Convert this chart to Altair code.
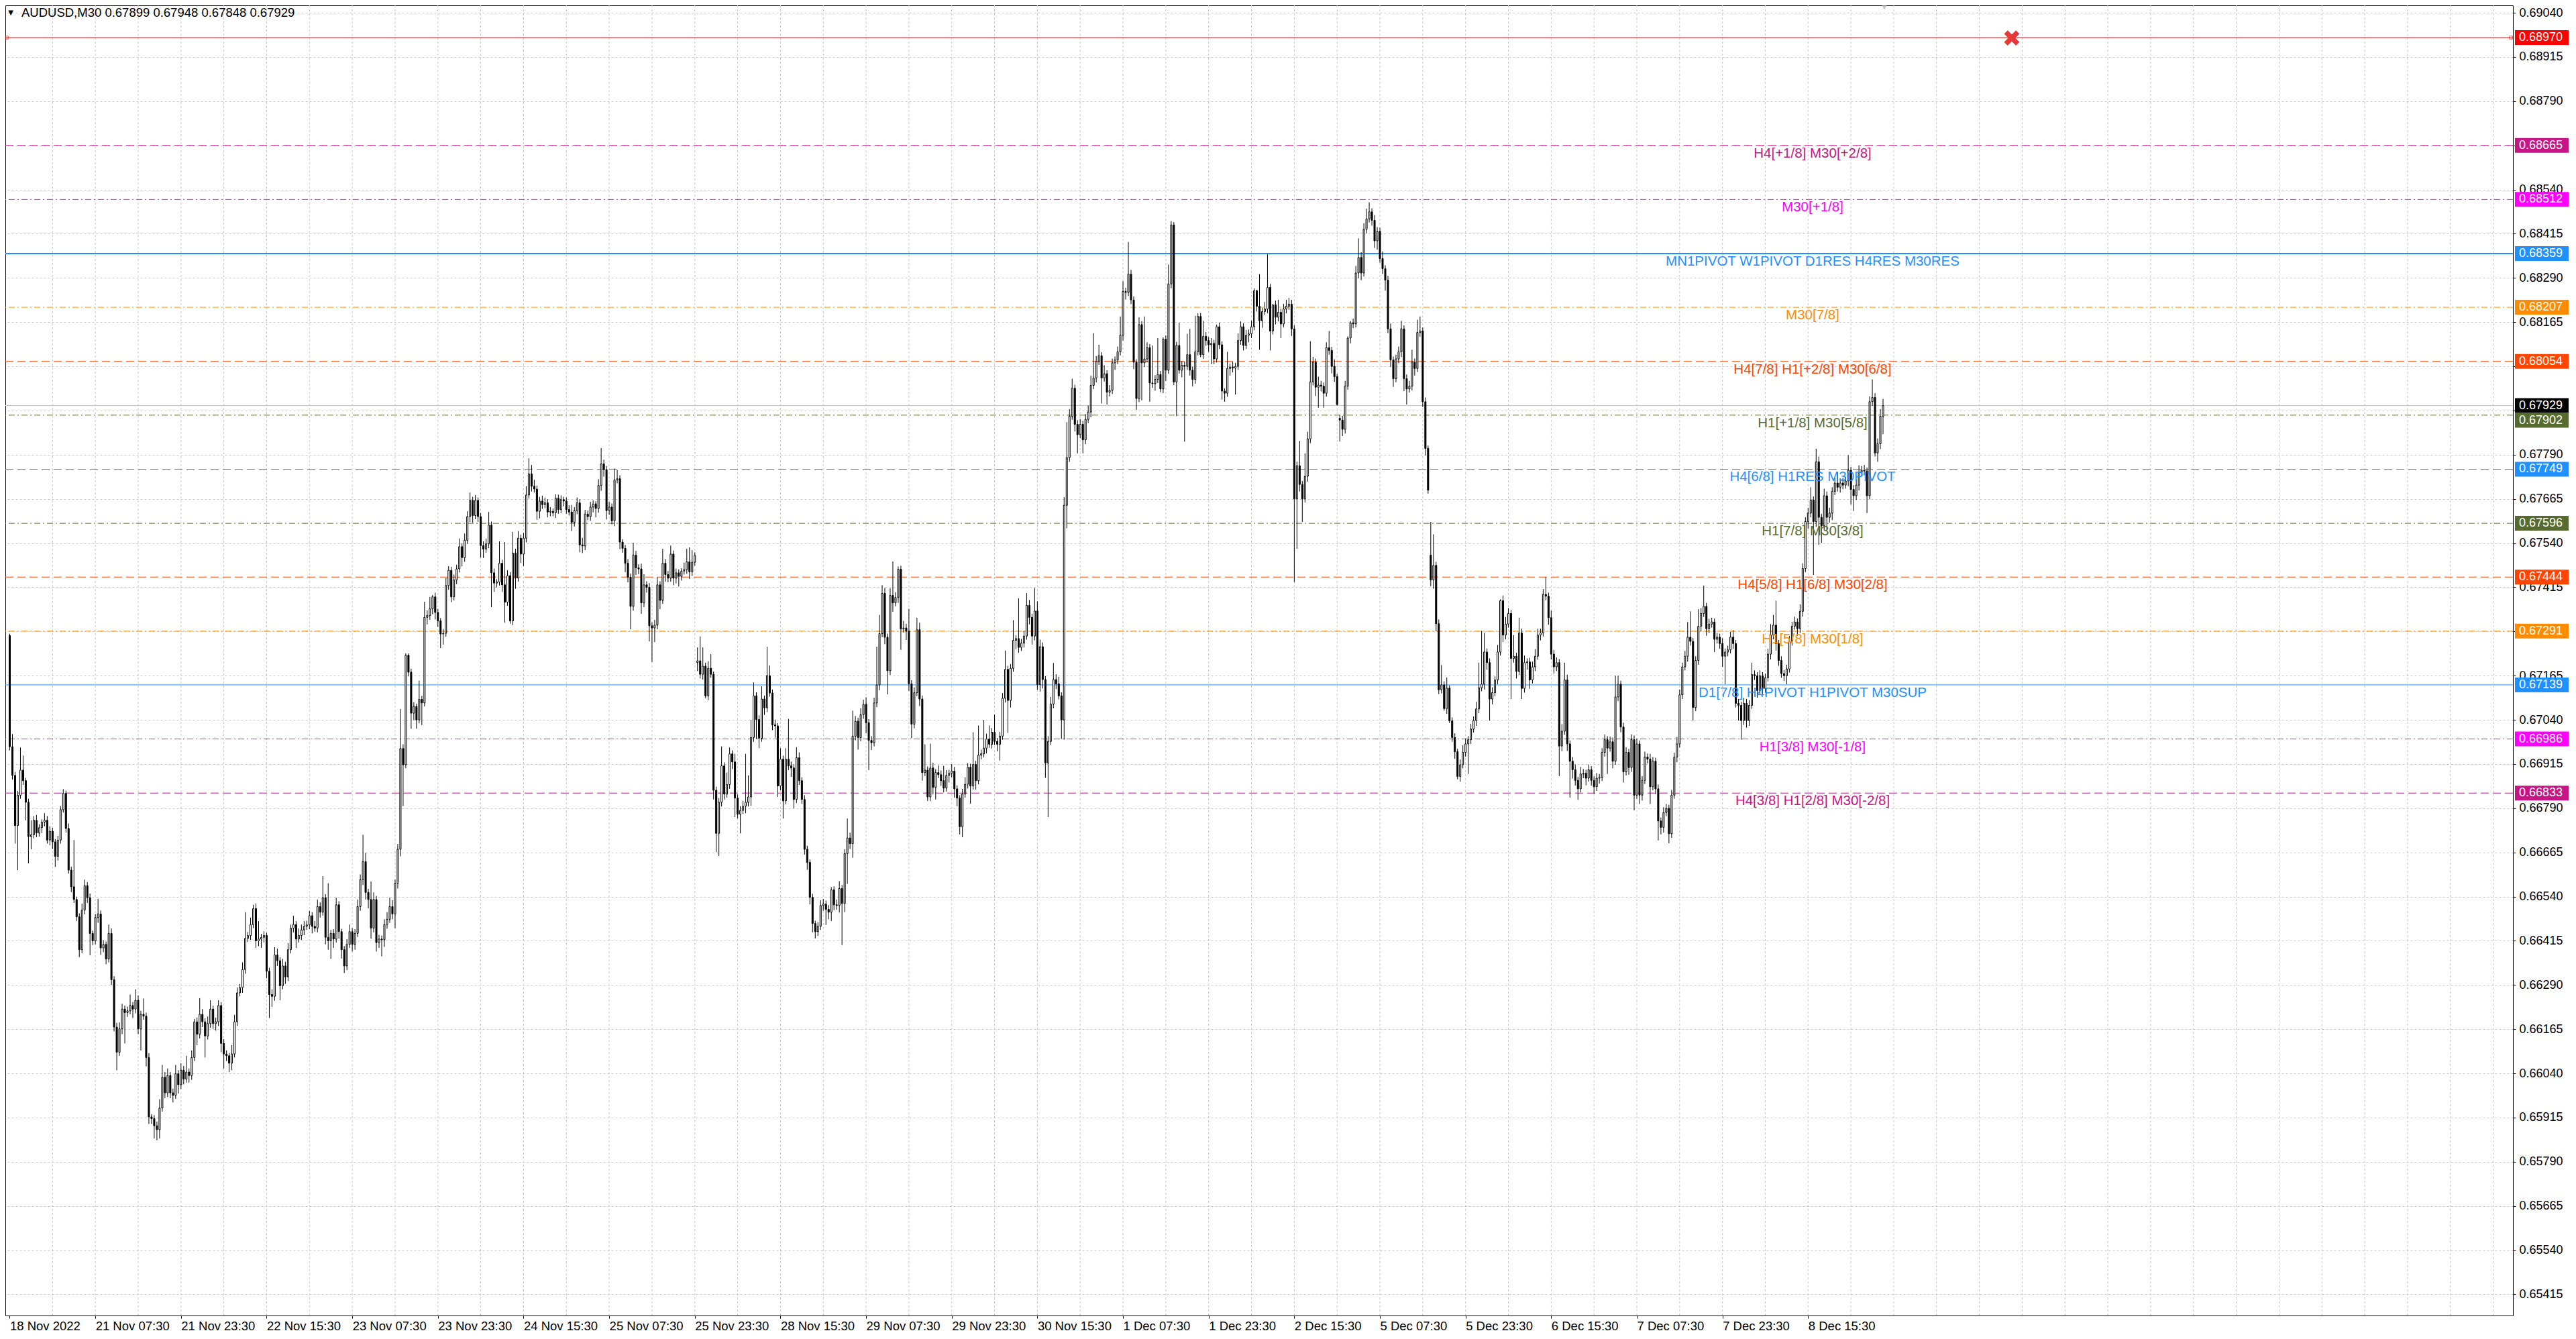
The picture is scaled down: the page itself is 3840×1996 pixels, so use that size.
import json
import altair as alt
import pandas as pd

# ---------------- data (prices in 1e-5 units) ----------------
closes = [
66964, 66883, 66741, 66827, 66898, 66868, 66807, 66710, 66715, 66756,
66720, 66735, 66751, 66756, 66700, 66725, 66695, 66654, 66700, 66786,
66832, 66733, 66615, 66568, 66532, 66483, 66390, 66502, 66571, 66537,
66436, 66415, 66481, 66491, 66395, 66405, 66364, 66436, 66305, 66171,
66100, 66166, 66222, 66212, 66217, 66232, 66222, 66247, 66166, 66207,
66202, 66085, 65917, 65912, 65892, 65881, 65942, 66029, 65985, 66034,
65985, 65978, 66039, 66008, 66049, 66024, 66044, 66034, 66085, 66186,
66151, 66207, 66186, 66146, 66181, 66222, 66181, 66186, 66232, 66125,
66095, 66090, 66069, 66095, 66186, 66268, 66283, 66334, 66422, 66430,
66461, 66506, 66415, 66420, 66425, 66430, 66329, 66263, 66258, 66375,
66359, 66288, 66344, 66313, 66390, 66451, 66461, 66420, 66430, 66446,
66456, 66460, 66486, 66456, 66451, 66512, 66496, 66537, 66425, 66415,
66436, 66420, 66517, 66441, 66390, 66344, 66405, 66441, 66405, 66436,
66512, 66588, 66639, 66552, 66532, 66451, 66532, 66410, 66420, 66418,
66461, 66476, 66512, 66491, 66578, 66674, 66959, 66913, 67223, 67175,
67059, 67078, 67040, 67098, 67088, 67330, 67335, 67354, 67388, 67344,
67320, 67283, 67285, 67420, 67463, 67388, 67436, 67467, 67530, 67499,
67548, 67615, 67661, 67618, 67661, 67615, 67533, 67523, 67538, 67591,
67456, 67427, 67430, 67483, 67422, 67373, 67448, 67320, 67512, 67441,
67554, 67509, 67554, 67676, 67736, 67701, 67693, 67630, 67659, 67649,
67654, 67628, 67630, 67626, 67667, 67635, 67663, 67659, 67635, 67628,
67599, 67632, 67654, 67535, 67532, 67622, 67615, 67642, 67651, 67638,
67703, 67764, 67748, 67632, 67642, 67603, 67719, 67722, 67543, 67525,
67483, 67444, 67361, 67506, 67470, 67467, 67371, 67422, 67415, 67306,
67300, 67308, 67422, 67378, 67483, 67451, 67441, 67509, 67441, 67456,
67446, 67461, 67465, 67487, 67459, 67486, 67505, 67207, 67169, 67192,
67108, 67186, 67169, 66841, 66719, 66807, 66910, 66830, 66857, 66944,
66921, 66819, 66773, 66784, 66796, 66807, 66822, 66990, 67108, 67041,
66988, 67099, 67074, 67165, 67116, 67026, 67023, 66853, 66929, 66811,
66929, 66910, 66904, 66815, 66933, 66868, 66815, 66674, 66637, 66538,
66464, 66441, 66456, 66515, 66519, 66504, 66496, 66559, 66517, 66515,
66563, 66521, 66662, 66706, 66690, 66994, 67036, 66990, 67055, 67084,
67032, 66982, 66975, 67088, 67139, 67284, 67398, 67274, 67179, 67392,
67371, 67386, 67466, 67297, 67300, 67291, 67142, 67028, 67117, 67295,
67099, 66891, 66898, 66822, 66904, 66849, 66891, 66885, 66868, 66847,
66883, 66889, 66895, 66845, 66819, 66738, 66830, 66858, 66906, 66853,
66914, 66868, 66940, 66944, 66960, 66986, 66971, 67005, 66979, 66971,
66994, 67101, 67183, 67095, 67186, 67265, 67270, 67245, 67257, 67277,
67364, 67330, 67277, 67348, 67140, 67247, 67154, 66918, 66979, 67085,
67154, 67142, 67108, 67040, 67647, 67782, 67899, 67978, 67876, 67847,
67876, 67832, 67890, 67911, 67986, 68007, 68054, 68070, 68007, 68019,
67967, 67972, 68050, 68058, 68081, 68128, 68252, 68249, 68301, 68228,
68052, 67949, 68158, 68050, 68061, 68093, 67993, 67991, 68003, 68017,
67976, 68117, 68029, 68273, 68440, 67996, 68099, 68029, 68043, 68040,
68073, 68029, 68003, 68081, 68181, 68073, 68125, 68113, 68101, 68105,
68061, 68152, 68101, 67970, 67964, 68034, 68038, 68035, 68040, 68113,
68152, 68099, 68128, 68132, 68152, 68254, 68210, 68169, 68195, 68202,
68263, 68140, 68214, 68179, 68193, 68160, 68202, 68210, 68216, 68146,
67665, 67759, 67706, 67665, 67729, 67835, 67996, 68052, 67981, 67987,
67984, 67964, 68093, 68085, 68040, 68011, 67932, 67888, 67862, 67984,
68120, 68163, 68160, 68304, 68348, 68304, 68428, 68457, 68477, 68453,
68395, 68422, 68345, 68316, 68284, 68146, 68058, 68005, 68061, 68081,
68146, 68005, 67976, 67984, 68052, 68034, 68136, 68140, 67940, 67808,
67690, 67436, 67477, 67312, 67125, 67139, 67072, 67130, 67037, 66990,
66950, 66880, 66913, 66948, 66972, 66984, 67014, 67038, 67071, 67131,
67141, 67232, 67202, 67099, 67117, 67153, 67232, 67377, 67280, 67311,
67341, 67214, 67220, 67177, 67286, 67129, 67202, 67204, 67153, 67190,
67220, 67280, 67286, 67395, 67390, 67329, 67226, 67190, 67202, 66966,
67008, 67153, 66972, 66923, 66899, 66869, 66845, 66887, 66889, 66875,
66899, 66869, 66851, 66875, 66877, 66948, 66984, 66960, 66978, 66923,
67105, 67141, 67020, 66893, 66948, 66905, 66984, 66827, 66972, 66827,
66869, 66935, 66929, 66851, 66923, 66845, 66754, 66736, 66778, 66790,
66718, 66827, 66935, 66972, 67111, 67190, 67220, 67274, 67262, 67075,
67208, 67305, 67341, 67361, 67298, 67311, 67317, 67268, 67274, 67256,
67220, 67232, 67238, 67274, 67256, 67087, 67081, 67038, 67087, 67038,
67081, 67168, 67165, 67123, 67165, 67129, 67159, 67226, 67280, 67308,
67256, 67208, 67171, 67165, 67184, 67262, 67305, 67317, 67298, 67347,
67468, 67601, 67625, 67662, 67601, 67770, 67613, 67589, 67674, 67613,
67625, 67686, 67710, 67698, 67710, 67704, 67716, 67746, 67692, 67674,
67704, 67740, 67746, 67744, 67674, 67940, 67952, 67795, 67821, 67899,
67929,
]

upper_wicks = [
5, 36, 10, 12, 64, 41, 8, 10, 41, 12,
15, 10, 8, 20, 12, 14, 10, 8, 12, 10,
12, 8, 14, 10, 132, 8, 10, 18, 17, 10,
12, 8, 10, 43, 10, 12, 8, 25, 14, 10,
12, 18, 15, 10, 12, 31, 10, 31, 14, 10,
45, 10, 12, 8, 10, 12, 25, 35, 15, 20,
10, 12, 25, 10, 20, 12, 46, 10, 20, 8,
12, 46, 15, 10, 20, 25, 10, 12, 15, 10,
12, 10, 8, 25, 20, 15, 10, 20, 74, 10,
20, 11, 15, 51, 10, 12, 8, 10, 15, 22,
18, 10, 20, 12, 18, 10, 25, 10, 20, 15,
15, 12, 14, 10, 15, 20, 12, 61, 10, 153,
10, 12, 20, 10, 8, 10, 15, 20, 10, 12,
20, 15, 76, 25, 10, 51, 20, 10, 12, 10,
15, 20, 25, 18, 10, 15, 112, 12, 5, 5,
10, 12, 8, 53, 10, 44, 15, 34, 5, 12,
10, 8, 12, 21, 12, 10, 15, 12, 23, 10,
19, 15, 22, 10, 15, 8, 10, 12, 15, 37,
10, 12, 8, 62, 10, 121, 15, 10, 60, 12,
20, 10, 15, 25, 44, 25, 18, 10, 12, 15,
15, 10, 12, 8, 11, 10, 12, 8, 10, 12,
20, 10, 15, 10, 20, 12, 10, 15, 10, 8,
18, 45, 12, 10, 15, 10, 32, 25, 10, 8,
10, 12, 10, 35, 12, 10, 15, 30, 10, 12,
10, 15, 22, 10, 41, 12, 10, 24, 10, 12,
10, 8, 20, 37, 41, 34, 9, 38, 69, 53,
10, 20, 40, 8, 10, 12, 55, 10, 34, 18,
10, 23, 10, 12, 15, 137, 61, 50, 38, 10,
12, 36, 10, 82, 29, 10, 15, 8, 31, 10,
31, 114, 12, 10, 30, 15, 10, 12, 10, 8,
10, 8, 12, 15, 14, 10, 12, 8, 10, 15,
21, 10, 12, 55, 15, 72, 15, 10, 18, 13,
20, 10, 12, 15, 108, 53, 23, 15, 10, 20,
96, 15, 8, 10, 20, 12, 63, 10, 15, 34,
20, 10, 73, 10, 69, 15, 10, 20, 12, 42,
15, 10, 20, 12, 10, 8, 15, 20, 12, 10,
91, 10, 84, 12, 80, 15, 38, 12, 50, 10,
12, 15, 53, 10, 12, 57, 10, 114, 12, 15,
35, 15, 10, 65, 27, 20, 12, 10, 15, 20,
47, 15, 20, 10, 23, 100, 20, 27, 10, 12,
15, 10, 15, 18, 28, 127, 15, 31, 10, 24,
10, 15, 12, 10, 15, 53, 29, 10, 91, 12,
10, 8, 21, 10, 120, 15, 10, 106, 12, 103,
10, 5, 10, 55, 11, 8, 10, 64, 12, 10,
59, 73, 10, 102, 9, 10, 44, 12, 10, 15,
10, 6, 12, 10, 8, 47, 10, 15, 10, 20,
15, 10, 15, 12, 17, 7, 3, 91, 10, 20,
94, 10, 2, 12, 35, 10, 15, 18, 18, 12,
10, 12, 70, 10, 65, 20, 115, 15, 10, 24,
12, 10, 15, 47, 10, 20, 8, 10, 12, 15,
5, 5, 12, 20, 54, 15, 17, 29, 27, 10,
15, 12, 10, 20, 10, 12, 15, 10, 12, 15,
23, 10, 12, 15, 35, 10, 36, 41, 10, 12,
8, 94, 88, 10, 12, 56, 10, 30, 8, 10,
12, 8, 15, 20, 15, 10, 15, 12, 20, 71,
151, 54, 10, 12, 15, 10, 20, 4, 15, 20,
15, 10, 60, 10, 43, 12, 20, 10, 12, 15,
20, 18, 12, 15, 49, 10, 20, 12, 15, 10,
20, 49, 15, 10, 12, 15, 10, 20, 12, 10,
15, 10, 12, 15, 10, 12, 15, 10, 15, 12,
60, 24, 10, 12, 15, 10, 15, 12, 15, 10,
12, 15, 10, 15, 12, 10, 12, 10, 15, 12,
10, 15, 12, 20, 15, 12, 15, 43, 73, 10,
12, 48, 15, 59, 10, 15, 12, 10, 12, 10,
15, 10, 12, 15, 20, 10, 12, 10, 15, 12,
15, 34, 12, 10, 15, 10, 12, 15, 31, 29,
69, 10, 12, 10, 12, 15, 12, 15, 10, 20,
15, 12, 15, 36, 10, 37, 15, 10, 20, 12,
15, 12, 15, 30, 12, 15, 12, 43, 10, 12,
15, 20, 12, 15, 10, 15, 51, 12, 15, 20,
19,
]

lower_wicks = [
10, 12, 51, 126, 10, 12, 51, 76, 36, 10,
12, 10, 15, 12, 10, 15, 20, 30, 12, 10,
8, 12, 10, 15, 10, 12, 21, 10, 12, 15,
62, 12, 10, 15, 20, 12, 15, 10, 15, 12,
51, 10, 15, 87, 12, 10, 25, 12, 15, 61,
10, 25, 20, 15, 36, 30, 25, 10, 15, 12,
15, 20, 10, 25, 12, 15, 10, 20, 12, 10,
31, 12, 15, 61, 10, 12, 15, 20, 12, 25,
41, 15, 25, 20, 10, 12, 10, 15, 12, 10,
12, 10, 20, 15, 25, 15, 20, 66, 30, 12,
15, 41, 10, 20, 12, 10, 12, 25, 10, 12,
15, 10, 12, 20, 10, 12, 15, 10, 20, 25,
51, 25, 10, 20, 25, 20, 12, 10, 20, 15,
10, 12, 15, 20, 25, 30, 12, 25, 15, 47,
20, 12, 10, 15, 40, 15, 20, 117, 10, 12,
44, 20, 25, 10, 63, 10, 20, 12, 15, 20,
17, 40, 30, 10, 12, 15, 10, 12, 10, 25,
12, 10, 15, 20, 10, 15, 34, 25, 10, 12,
97, 25, 12, 10, 20, 58, 10, 8, 12, 30,
10, 25, 34, 12, 10, 15, 10, 24, 20, 12,
10, 15, 12, 10, 15, 12, 10, 15, 12, 10,
25, 12, 10, 21, 20, 12, 10, 12, 15, 25,
12, 15, 20, 25, 12, 10, 15, 10, 20, 12,
25, 15, 65, 12, 20, 15, 31, 12, 15, 44,
96, 40, 12, 25, 10, 20, 12, 10, 20, 15,
29, 12, 10, 12, 20, 12, 10, 24, 12, 15,
7, 12, 10, 26, 53, 64, 12, 15, 10, 12,
20, 54, 12, 54, 10, 20, 12, 25, 12, 55,
28, 10, 20, 12, 10, 15, 33, 31, 12, 50,
10, 12, 25, 25, 10, 12, 12, 15, 21, 20,
25, 19, 12, 10, 15, 44, 20, 25, 15, 12,
20, 118, 25, 86, 15, 40, 12, 34, 10, 12,
30, 84, 20, 10, 12, 15, 10, 20, 67, 12,
25, 10, 15, 59, 10, 25, 20, 40, 12, 10,
20, 23, 10, 11, 12, 20, 34, 10, 15, 12,
10, 20, 12, 25, 23, 22, 30, 10, 12, 50,
10, 25, 10, 12, 10, 15, 10, 12, 10, 20,
46, 10, 12, 92, 20, 10, 25, 15, 10, 12,
10, 20, 24, 12, 15, 20, 25, 42, 153, 10,
12, 15, 10, 54, 56, 65, 12, 10, 20, 53,
10, 38, 12, 10, 15, 10, 12, 10, 72, 10,
35, 12, 10, 20, 12, 10, 15, 20, 10, 12,
20, 32, 10, 106, 12, 10, 53, 12, 20, 10,
9, 12, 30, 10, 12, 9, 97, 10, 20, 213,
10, 15, 20, 12, 10, 7, 12, 15, 20, 55,
15, 10, 12, 24, 24, 10, 20, 12, 75, 10,
12, 14, 10, 20, 12, 10, 15, 82, 20, 10,
12, 55, 10, 20, 12, 40, 10, 12, 10, 20,
235, 141, 20, 65, 10, 15, 12, 10, 25, 58,
15, 41, 10, 12, 20, 15, 3, 61, 19, 12,
10, 15, 12, 10, 15, 20, 10, 12, 10, 15,
20, 25, 12, 15, 30, 12, 20, 23, 10, 12,
15, 35, 44, 10, 12, 20, 10, 12, 15, 20,
10, 18, 25, 21, 12, 10, 6, 15, 6, 12,
20, 8, 15, 10, 12, 85, 12, 10, 15, 12,
10, 15, 20, 61, 15, 10, 12, 10, 20, 12,
10, 115, 12, 20, 10, 30, 12, 20, 25, 10,
12, 10, 15, 10, 12, 20, 15, 19, 12, 85,
15, 10, 20, 103, 25, 15, 31, 10, 12, 20,
10, 15, 20, 12, 15, 10, 12, 73, 10, 20,
10, 12, 15, 30, 10, 20, 12, 43, 10, 25,
15, 10, 12, 49, 10, 15, 55, 20, 15, 10,
27, 12, 10, 15, 10, 12, 10, 15, 12, 37,
10, 12, 15, 10, 20, 12, 10, 36, 12, 15,
30, 79, 12, 10, 15, 12, 43, 54, 12, 20,
15, 10, 12, 20, 10, 15, 12, 10, 15, 12,
20, 15, 12, 15, 24, 10, 12, 10, 20, 12,
15, 10, 20, 12, 151, 15, 78, 48, 12, 36,
15, 20, 10, 12, 15, 12, 10, 15, 43, 43,
12, 15, 10, 12, 49, 10, 12, 10, 25, 15,
51,
]

# opens that do not equal the previous close (session gaps)
open_gaps = {0: 67279, 257: 67202, 497: 67893, 531: 67506}

time_labels = ["18 Nov 2022", "21 Nov 07:30", "21 Nov 23:30", "22 Nov 15:30", "23 Nov 07:30",
               "23 Nov 23:30", "24 Nov 15:30", "25 Nov 07:30", "25 Nov 23:30", "28 Nov 15:30",
               "29 Nov 07:30", "29 Nov 23:30", "30 Nov 15:30", "1 Dec 07:30", "1 Dec 23:30",
               "2 Dec 15:30", "5 Dec 07:30", "5 Dec 23:30", "6 Dec 15:30", "7 Dec 07:30",
               "7 Dec 23:30", "8 Dec 15:30"]
bars_per_label = 32

y_ticks = [0.69040, 0.68915, 0.68790, 0.68665, 0.68540, 0.68415, 0.68290, 0.68165, 0.68040, 0.67915,
           0.67790, 0.67665, 0.67540, 0.67415, 0.67290, 0.67165, 0.67040, 0.66915, 0.66790, 0.66665,
           0.66540, 0.66415, 0.66290, 0.66165, 0.66040, 0.65915, 0.65790, 0.65665, 0.65540, 0.65415]
# tick labels hidden behind price boxes in the reference
hidden_tick_labels = ["0.68040", "0.67915"]

level_prices = [0.68970, 0.68665, 0.68512, 0.68359, 0.68207, 0.68054, 0.67929, 0.67902,
                0.67749, 0.67596, 0.67444, 0.67291, 0.67139, 0.66986, 0.66833]
level_colors = ["#FF0000", "#C71585", "#FF00FF", "#1E90FF", "#FF8C00", "#FF4500", "#000000", "#556B2F",
                "#1E90FF", "#556B2F", "#FF4500", "#FF8C00", "#1E90FF", "#FF00FF", "#C71585"]
level_line_colors = ["#FF0000", "#C71585", "#FF00FF", "#1E90FF", "#FF8C00", "#FF4500", "#C0C0C0", "#556B2F",
                     "#1E90FF", "#556B2F", "#FF4500", "#FF8C00", "#1E90FF", "#FF00FF", "#C71585"]
level_styles = ["solid", "dash", "dashdot", "solid2", "dashdot", "dash", "solid", "dashdot",
                "dash", "dashdot", "dash", "dashdot", "solid", "dashdot", "dash"]
level_texts = ["", "H4[+1/8] M30[+2/8]", "M30[+1/8]", "MN1PIVOT W1PIVOT D1RES H4RES M30RES", "M30[7/8]",
               "H4[7/8] H1[+2/8] M30[6/8]", "", "H1[+1/8] M30[5/8]", "H4[6/8] H1RES M30PIVOT",
               "H1[7/8] M30[3/8]", "H4[5/8] H1[6/8] M30[2/8]", "H1[5/8] M30[1/8]",
               "D1[7/8] H4PIVOT H1PIVOT M30SUP", "H1[3/8] M30[-1/8]", "H4[3/8] H1[2/8] M30[-2/8]"]

title_text = "AUDUSD,M30  0.67899 0.67948 0.67848 0.67929"

# ---------------- layout ----------------
W, H = 3738, 1953
X_DOM = [-0.375, 934.125]
Y_DOM = [0.653552, 0.690611]
PX_PER_PRICE = H / (Y_DOM[1] - Y_DOM[0])
FONT = "Liberation Sans, Arial, sans-serif"

xs = alt.Scale(domain=X_DOM, nice=False, zero=False)
ys = alt.Scale(domain=Y_DOM, nice=False, zero=False)

# ---------------- tables ----------------
rows = []
prev = closes[0]
for i, c in enumerate(closes):
    o = open_gaps.get(i, prev)
    uw = upper_wicks[i] if i < len(upper_wicks) else 0
    lw = lower_wicks[i] if i < len(lower_wicks) else 0
    rows.append({"bar": i, "open": o / 1e5, "close": c / 1e5,
                 "high": (max(o, c) + uw) / 1e5, "low": (min(o, c) - lw) / 1e5,
                 "up": bool(c >= o)})
    prev = c
candles = pd.DataFrame(rows)

levels = pd.DataFrame({"price": level_prices, "color": level_colors, "lcolor": level_line_colors,
                       "style": level_styles, "label": level_texts})

# price boxes on the right, stacked so they never overlap
box_half = 11.0 / PX_PER_PRICE
centers = []
last = None
for p in level_prices:
    c = p
    if last is not None and (last - c) < 2 * box_half:
        c = last - 2 * box_half
    centers.append(c)
    last = c
boxes = pd.DataFrame({"center": centers, "lo": [c - box_half for c in centers],
                      "hi": [c + box_half for c in centers], "color": level_colors,
                      "txt": ["%.5f" % p for p in level_prices]})

grid_bars = pd.DataFrame({"g": list(range(16, 936, 16))})

# ---------------- axes (identical in every layer so they merge) ----------------
label_expr = json.dumps(time_labels) + "[round(datum.value/%d)]" % bars_per_label
y_label_expr = "indexof(%s, datum.label) >= 0 ? '' : datum.label" % json.dumps(hidden_tick_labels)
x_axis = alt.Axis(values=[k * bars_per_label for k in range(len(time_labels))], labelExpr=label_expr,
                  grid=False, domain=False, ticks=True, tickSize=4, tickColor="black",
                  labelAlign="left", labelBaseline="top", labelPadding=2, labelFont=FONT,
                  labelFontSize=18.5, labelColor="black", labelFlush=False, labelOverlap=False,
                  labelBound=False, title=None)
y_axis = alt.Axis(orient="right", values=y_ticks, format=".5f", labelExpr=y_label_expr,
                  grid=True, gridColor="#C8C8C8",
                  gridDash=[3, 3], gridWidth=1, domain=False, tickSize=4, tickColor="black",
                  labelPadding=5, labelFont=FONT, labelFontSize=18, labelColor="black",
                  labelOverlap=False, labelBound=False, labelFlush=False, title=None)


def X(field):
    return alt.X(field, scale=xs, axis=x_axis)


def Y(field):
    return alt.Y(field, scale=ys, axis=y_axis)


# ---------------- layers ----------------
vgrid = alt.Chart(grid_bars).mark_rule(color="#C8C8C8", strokeDash=[3, 3], strokeWidth=1).encode(
    x=X("g:Q"))


def level_layer(style, dash=None, width=1):
    mk = dict(strokeWidth=width)
    if dash:
        mk["strokeDash"] = dash
    return alt.Chart(levels[levels["style"] == style]).mark_rule(**mk).encode(
        y=Y("price:Q"),
        color=alt.Color("lcolor:N", scale=None))


lv_solid = level_layer("solid")
lv_solid2 = level_layer("solid2", width=2)
lv_dash = level_layer("dash", dash=[12, 6])
lv_dashdot = level_layer("dashdot", dash=[9, 4, 2, 4])

wicks = alt.Chart(candles).mark_rule(color="black", strokeWidth=1).encode(
    x=X("bar:Q"), y=Y("low:Q"), y2="high:Q")

bodies = alt.Chart(candles).mark_bar(width=2, stroke="black", strokeWidth=1, orient="vertical").encode(
    x=X("bar:Q"), y=Y("open:Q"), y2="close:Q",
    fill=alt.condition("datum.up", alt.value("white"), alt.value("black")))

lv_text = alt.Chart(levels[levels["label"] != ""]).mark_text(
    align="center", baseline="middle", dy=12, font=FONT, fontSize=20.5).encode(
    x=alt.value(2694),
    y=Y("price:Q"),
    text="label:N",
    color=alt.Color("color:N", scale=None))

box_rect = alt.Chart(boxes).mark_rect().encode(
    x=alt.value(W + 3), x2=alt.value(W + 83),
    y=Y("lo:Q"), y2="hi:Q",
    color=alt.Color("color:N", scale=None))
box_text = alt.Chart(boxes).mark_text(align="left", baseline="middle", color="white",
                                      font=FONT, fontSize=18).encode(
    x=alt.value(W + 9), y=Y("center:Q"), text="txt:N")

red_line = levels[levels["price"] == level_prices[0]]
end_sq_l = alt.Chart(red_line).mark_point(shape="square", size=20, filled=False, color="#FF0000",
                                          strokeWidth=1).encode(
    x=alt.value(2), y=Y("price:Q"))
end_sq_r = alt.Chart(red_line).mark_point(shape="square", size=20, filled=False, color="#FF0000",
                                          strokeWidth=1).encode(
    x=alt.value(W - 3), y=Y("price:Q"))
red_x = alt.Chart(red_line).mark_text(text="\u2716", font="DejaVu Sans", fontSize=34,
                                      color="#E53935", baseline="middle", align="center", dy=3).encode(
    x=alt.value(2991), y=Y("price:Q"))

title_df = pd.DataFrame({"t": [title_text]})
title = alt.Chart(title_df).mark_text(align="left", baseline="middle", font=FONT, fontSize=18.5,
                                      color="black").encode(
    x=alt.value(24), y=alt.value(11), text="t:N")
tri = alt.Chart(title_df).mark_text(text="\u25BC", align="center", baseline="middle",
                                    font="DejaVu Sans", fontSize=10, color="black").encode(
    x=alt.value(8), y=alt.value(11))
shift_mark = alt.Chart(title_df).mark_point(shape="triangle-down", size=60, filled=True,
                                            color="#A9A9A9").encode(
    x=alt.value(2801), y=alt.value(3))

chart = alt.layer(
    vgrid, lv_solid, lv_solid2, lv_dash, lv_dashdot,
    wicks, bodies, lv_text, box_rect, box_text,
    end_sq_l, end_sq_r, red_x, title, tri, shift_mark
).properties(
    width=W, height=H,
    autosize=alt.AutoSizeParams(type="none"),
    padding={"left": 0, "top": 0, "right": 84, "bottom": 26},
    background="white",
).configure_view(stroke="black", strokeWidth=1)

chart.save("out.html", embed_options={"renderer": "svg", "actions": False})
